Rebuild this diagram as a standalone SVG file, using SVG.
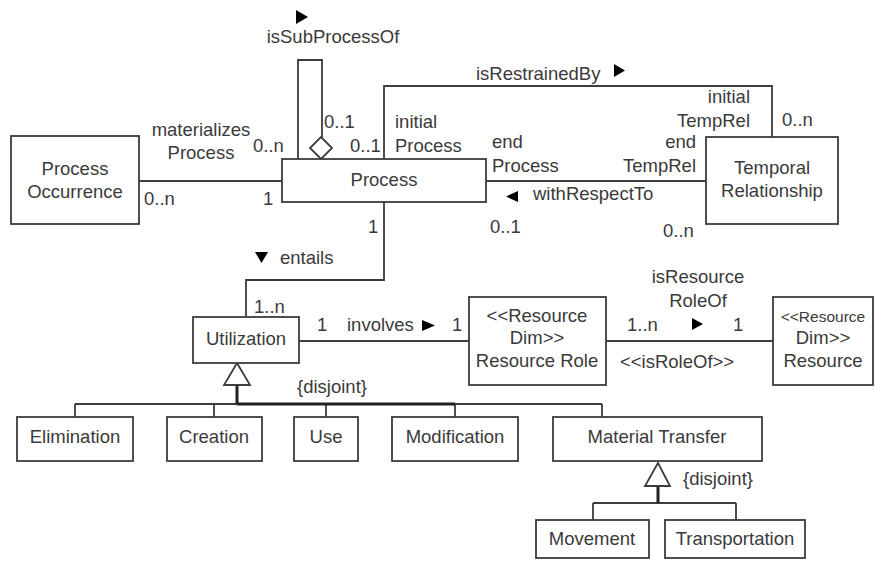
<svg xmlns="http://www.w3.org/2000/svg" width="875" height="562" viewBox="0 0 875 562">
<style>
text{font-family:"Liberation Sans",Arial,sans-serif;font-size:18.5px;fill:#3a3a3a}
.c{text-anchor:middle}
.e{text-anchor:end}
.n rect{fill:#fff;stroke:#3c3c3c;stroke-width:1.8}
.ln{fill:none;stroke:#3c3c3c;stroke-width:1.8}
.th{fill:none;stroke:#222;stroke-width:3}
.hol{fill:#fff;stroke:#3c3c3c;stroke-width:1.8}
.ar{fill:#000}
</style>
<rect width="875" height="562" fill="#fff"/>
<g id="connectors">
<path class="ln" d="M139,181 H282"/>
<path class="ln" d="M298,159 V60 H322 V137"/>
<polygon class="hol" points="321,137 332,148 321,159 310,148"/>
<path class="ln" d="M384,159 V86 H772 V137"/>
<path class="ln" d="M486,181 H706"/>
<path class="ln" d="M384,202 V280 H246 V317"/>
<path class="ln" d="M299,341 H469"/>
<path class="ln" d="M606,341 H773"/>
<path class="ln" d="M75,404 H602 M75,404 V417 M214,404 V417 M326,404 V417 M455,404 V417 M602,404 V417"/>
<path class="th" d="M237,385 V404 M237,404 H455"/>
<polygon class="hol" points="237,363 250,385 224,385"/>
<path class="ln" d="M593,503 H736 M593,503 V520 M736,503 V520"/>
<path class="th" d="M658,486 V503"/>
<polygon class="hol" points="658,463 670,486 645,486"/>
<polygon class="ar" points="296,10 308,17 296,24"/>
<polygon class="ar" points="614,64 625,70.5 614,77"/>
<polygon class="ar" points="518,191 506,196.5 518,202"/>
<polygon class="ar" points="255,252 268,252 261.5,263"/>
<polygon class="ar" points="422,320 435,325.5 422,331"/>
<polygon class="ar" points="692,318 703,324 692,330"/>
<text class="c" x="333" y="43">isSubProcessOf</text>
<text class="c" x="201" y="136">materializes</text>
<text class="c" x="201" y="159">Process</text>
<text x="253" y="152">0..n</text>
<text x="144" y="205">0..n</text>
<text x="263" y="205">1</text>
<text x="324" y="128">0..1</text>
<text x="350" y="152">0..1</text>
<text x="395" y="128">initial</text>
<text x="395" y="152">Process</text>
<text x="476" y="80">isRestrainedBy</text>
<text x="492" y="148">end</text>
<text x="492" y="172">Process</text>
<text class="e" x="750" y="103">initial</text>
<text class="e" x="750" y="127">TempRel</text>
<text x="782" y="126">0..n</text>
<text class="e" x="696" y="148">end</text>
<text class="e" x="696" y="172">TempRel</text>
<text x="533" y="200">withRespectTo</text>
<text x="490" y="233">0..1</text>
<text x="663" y="237">0..n</text>
<text x="368" y="233">1</text>
<text x="280" y="264">entails</text>
<text x="254" y="313">1..n</text>
<text x="317" y="331">1</text>
<text x="347" y="331">involves</text>
<text x="452" y="331">1</text>
<text class="c" x="698" y="283">isResource</text>
<text class="c" x="698" y="307">RoleOf</text>
<text x="627" y="331">1..n</text>
<text x="733" y="331">1</text>
<text x="620" y="368">&lt;&lt;isRoleOf&gt;&gt;</text>
<text x="297" y="393">{disjoint}</text>
<text x="683" y="485">{disjoint}</text>
</g>
<g id="ProcessOccurrence" class="n"><rect x="11" y="136" width="128" height="88"/><text class="c" x="75" y="175">Process</text><text class="c" x="75" y="198">Occurrence</text></g>
<g id="Process" class="n"><rect x="282" y="159" width="204" height="43"/><text class="c" x="384" y="186">Process</text></g>
<g id="TemporalRelationship" class="n"><rect x="706" y="137" width="132" height="87"/><text class="c" x="772" y="174">Temporal</text><text class="c" x="772" y="197">Relationship</text></g>
<g id="Utilization" class="n"><rect x="193" y="317" width="106" height="46"/><text class="c" x="246" y="345">Utilization</text></g>
<g id="ResourceRole" class="n"><rect x="469" y="297" width="137" height="88"/><text class="c" x="537" y="322">&lt;&lt;Resource</text><text class="c" x="537" y="344">Dim&gt;&gt;</text><text class="c" x="537" y="367">Resource Role</text></g>
<g id="Resource" class="n"><rect x="773" y="297" width="100" height="88"/><text class="c" x="823" y="322" style="font-size:15.5px">&lt;&lt;Resource</text><text class="c" x="823" y="344">Dim&gt;&gt;</text><text class="c" x="823" y="367">Resource</text></g>
<g id="Elimination" class="n"><rect x="17" y="417" width="116" height="44"/><text class="c" x="75" y="443">Elimination</text></g>
<g id="Creation" class="n"><rect x="167" y="417" width="95" height="44"/><text class="c" x="214" y="443">Creation</text></g>
<g id="Use" class="n"><rect x="294" y="417" width="64" height="44"/><text class="c" x="326" y="443">Use</text></g>
<g id="Modification" class="n"><rect x="392" y="417" width="126" height="44"/><text class="c" x="455" y="443">Modification</text></g>
<g id="MaterialTransfer" class="n"><rect x="553" y="417" width="209" height="44"/><text class="c" x="657" y="443">Material Transfer</text></g>
<g id="Movement" class="n"><rect x="536" y="520" width="113" height="38"/><text class="c" x="592" y="545">Movement</text></g>
<g id="Transportation" class="n"><rect x="665" y="520" width="140" height="38"/><text class="c" x="735" y="545">Transportation</text></g>
</svg>
